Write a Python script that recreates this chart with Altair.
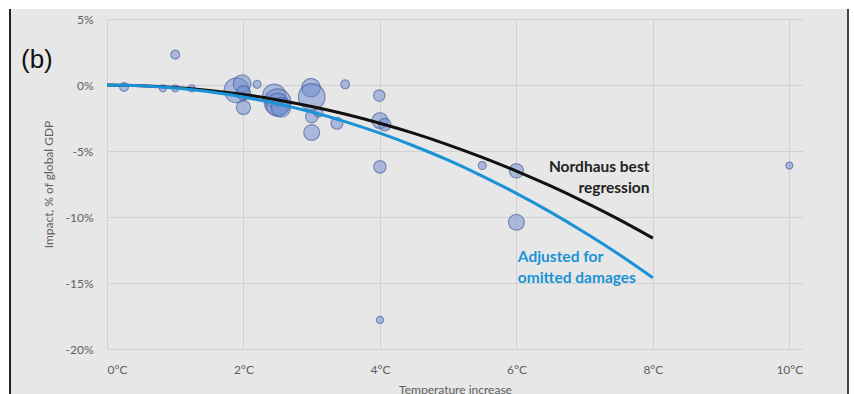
import altair as alt
import pandas as pd

# Bubble data (study estimates)
bubble_temp = [0.25, 0.82, 1.0, 1.24, 1.0, 1.9, 1.98, 2.0, 2.0, 2.2,
               2.45, 2.5, 2.5, 2.55, 2.99, 3.0, 3.0, 3.1, 3.0, 3.37,
               3.49, 3.99, 4.0, 4.07, 4.0, 4.0, 5.5, 6.0, 6.0, 10.0]
bubble_impact = [-0.15, -0.25, -0.25, -0.25, 2.3, -0.4, 0.1, -0.6, -1.7, 0.05,
                 -0.8, -1.3, -1.5, -1.7, -0.2, -0.9, -2.4, -2.1, -3.6, -2.9,
                 0.05, -0.8, -2.7, -3.0, -6.2, -17.8, -6.1, -6.5, -10.4, -6.1]
bubble_weight = [25, 16, 16, 16, 25, 196, 100, 64, 64, 20,
                 169, 225, 169, 121, 110, 225, 49, 25, 81, 45,
                 25, 42, 81, 49, 49, 16, 20, 64, 81, 16]

# Regression curves
curve_temp = [0, 0.5, 1, 1.5, 2, 2.5, 3, 3.5, 4, 4.5, 5, 5.5, 6, 6.5, 7, 7.5, 8]
nordhaus_best = [0, -0.05, -0.18, -0.41, -0.72, -1.13, -1.63, -2.22, -2.9,
                 -3.67, -4.53, -5.48, -6.52, -7.65, -8.87, -10.18, -11.6]
adjusted_omitted = [0, -0.06, -0.23, -0.51, -0.91, -1.43, -2.05, -2.79, -3.65,
                    -4.62, -5.7, -6.9, -8.21, -9.63, -11.17, -12.82, -14.6]

x_ticks = [0, 2, 4, 6, 8, 10]
y_ticks = [-20, -15, -10, -5, 0, 5]

bubbles = pd.DataFrame({"temp": bubble_temp, "impact": bubble_impact, "weight": bubble_weight})
curves = pd.DataFrame({"temp": curve_temp, "nordhaus": nordhaus_best, "adjusted": adjusted_omitted})

FONT = "Lato"
LABEL_COLOR = "#606060"

x_scale = alt.Scale(domain=[0, 10.2], nice=False, zero=False)
y_scale = alt.Scale(domain=[-20, 5], nice=False, zero=False)

x_axis = alt.Axis(values=x_ticks, labelExpr="datum.value + '\u00b0C'", grid=True,
                  gridColor="#d2d2d2", domain=False, ticks=False, labelPadding=15,
                  title="Temperature increase", titlePadding=9, titleFontWeight="normal",
                  titleFontSize=12, titleColor=LABEL_COLOR, labelFontSize=12,
                  labelColor=LABEL_COLOR, labelFont=FONT, titleFont=FONT)
y_axis = alt.Axis(values=y_ticks, labelExpr="datum.value + '%'", grid=True,
                  gridColor="#d2d2d2", domain=False, ticks=False, labelPadding=14,
                  title="Impact, % of global GDP", titlePadding=10, titleFontWeight="normal",
                  titleFontSize=12, titleColor=LABEL_COLOR, labelFontSize=12,
                  labelColor=LABEL_COLOR, labelFont=FONT, titleFont=FONT)

points = alt.Chart(bubbles).mark_circle(
    fill="#6d8bd0", fillOpacity=0.5, stroke="#42599a", strokeWidth=1.2, strokeOpacity=0.6
).encode(
    x=alt.X("temp:Q", scale=x_scale, axis=x_axis),
    y=alt.Y("impact:Q", scale=y_scale, axis=y_axis),
    size=alt.Size("weight:Q", scale=alt.Scale(domain=[0, 225], range=[0, 707]), legend=None),
)

base_line = alt.Chart(curves).encode(x=alt.X("temp:Q", scale=x_scale))
line_n = base_line.mark_line(color="#111111", strokeWidth=3, interpolate="natural").encode(
    y=alt.Y("nordhaus:Q", scale=y_scale))
line_a = base_line.mark_line(color="#1a92d6", strokeWidth=3, interpolate="natural").encode(
    y=alt.Y("adjusted:Q", scale=y_scale))

TXT = dict(font=FONT, fontSize=15.5, fontWeight="bold", baseline="middle")
txt_n1 = alt.Chart().mark_text(text="Nordhaus best", align="right", color="#222222", **TXT).encode(
    x=alt.datum(7.95, scale=x_scale), y=alt.datum(-6.2, scale=y_scale))
txt_n2 = alt.Chart().mark_text(text="regression", align="right", color="#222222", **TXT).encode(
    x=alt.datum(7.95, scale=x_scale), y=alt.datum(-7.8, scale=y_scale))
txt_a1 = alt.Chart().mark_text(text="Adjusted for", align="left", color="#1a92d6", **TXT).encode(
    x=alt.datum(6.02, scale=x_scale), y=alt.datum(-13.0, scale=y_scale))
txt_a2 = alt.Chart().mark_text(text="omitted damages", align="left", color="#1a92d6", **TXT).encode(
    x=alt.datum(6.02, scale=x_scale), y=alt.datum(-14.6, scale=y_scale))

panel_label = alt.Chart().mark_text(text="(b)", align="left", baseline="middle",
                                    font="Liberation Sans", fontSize=26, color="#111111").encode(
    x=alt.value(-86), y=alt.value(41))

# frame decorations
top_strip = alt.Chart().mark_rect(color="white").encode(
    x=alt.value(-107), x2=alt.value(747), y=alt.value(-19), y2=alt.value(-10))
left_strip = alt.Chart().mark_rect(color="white").encode(
    x=alt.value(-107), x2=alt.value(-97), y=alt.value(-19), y2=alt.value(375))
right_strip = alt.Chart().mark_rect(color="white").encode(
    x=alt.value(741), x2=alt.value(747), y=alt.value(-19), y2=alt.value(375))
left_rule = alt.Chart().mark_rule(color="#222222", strokeWidth=2).encode(
    x=alt.value(-97), y=alt.value(-10), y2=alt.value(375))
right_rule = alt.Chart().mark_rule(color="#444444", strokeWidth=2).encode(
    x=alt.value(741), y=alt.value(-10), y2=alt.value(375))

chart = alt.layer(
    points, line_n, line_a, txt_n1, txt_n2, txt_a1, txt_a2, panel_label,
    top_strip, left_strip, right_strip, left_rule, right_rule
).properties(
    width=696, height=330,
    autosize=alt.AutoSizeParams(type="none"),
    padding={"left": 107, "top": 19, "right": 51, "bottom": 45},
    background="#e7e7e7",
).configure_view(stroke=None)

chart.save("out.html", embed_options={"renderer": "svg", "actions": False})
